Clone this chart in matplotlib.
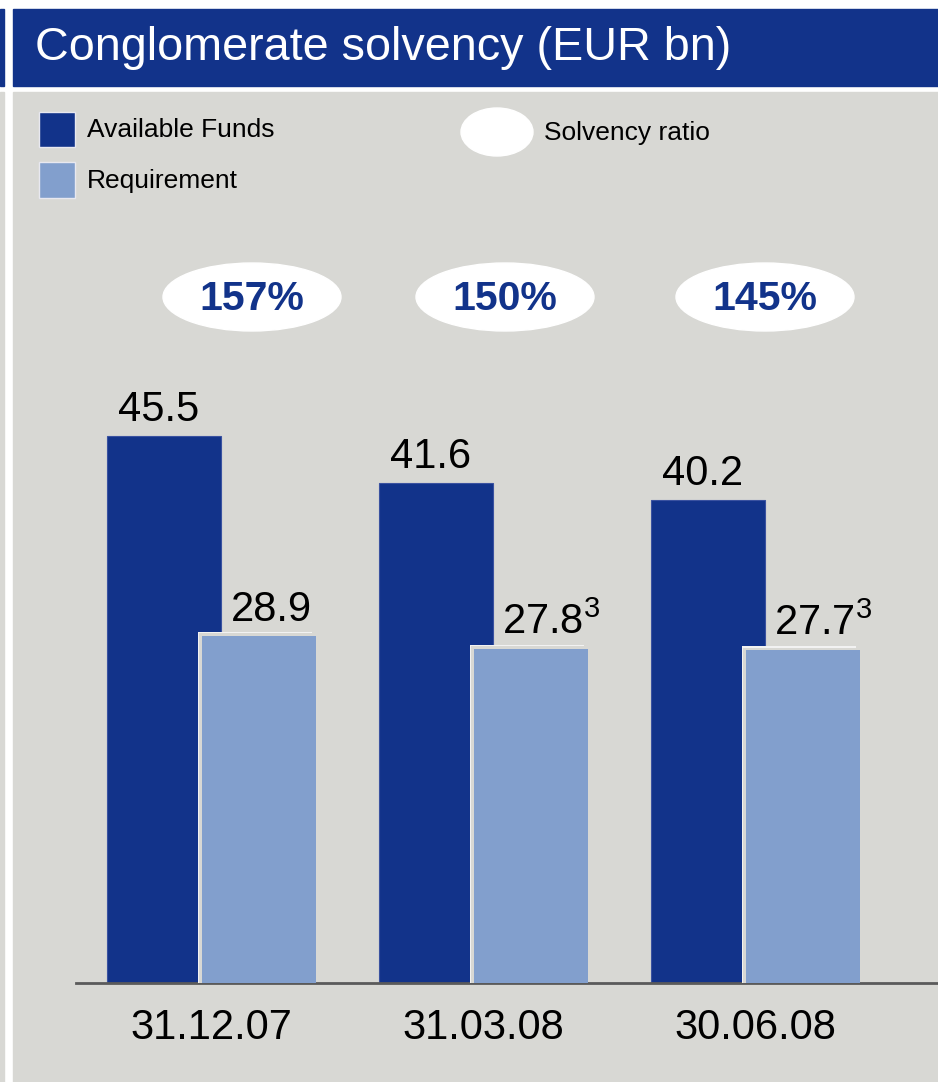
import matplotlib.pyplot as plt
from matplotlib.patches import Rectangle, Ellipse

plt.rcParams['font.family'] = ['Liberation Sans', 'DejaVu Sans']

# data
dates = ['31.12.07', '31.03.08', '30.06.08']
available_funds = [45.5, 41.6, 40.2]
requirement = [28.9, 27.8, 27.7]
req_notes = ['', '3', '3']
solvency_ratio = ['157%', '150%', '145%']

DARK = '#12338A'
LIGHT = '#829FCD'
BG = '#D8D8D4'

W, H = 938, 1082
fig = plt.figure(figsize=(W / 100, H / 100), dpi=100)

# background layer in pixel coordinates
bg = fig.add_axes([0, 0, 1, 1])
bg.set_xlim(0, W)
bg.set_ylim(H, 0)
bg.axis('off')
bg.add_patch(Rectangle((0, 9), 4, 77, color=DARK))
bg.add_patch(Rectangle((13, 9), W - 13, 77, color=DARK))
bg.add_patch(Rectangle((0, 92), 4, H - 92, color=BG))
bg.add_patch(Rectangle((13, 92), W - 13, H - 92, color=BG))
bg.text(35, 48, 'Conglomerate solvency (EUR bn)', color='white', fontsize=33.7,
        va='center', ha='left')

# legend
bg.add_patch(Rectangle((39, 112), 36, 35, facecolor=DARK, edgecolor='#E8E8F0', lw=1))
bg.add_patch(Rectangle((39, 162), 36, 36, facecolor=LIGHT, edgecolor='#E8E8F0', lw=1))
bg.text(87, 130, 'Available Funds', fontsize=19, va='center')
bg.text(87, 181, 'Requirement', fontsize=19, va='center')
bg.add_patch(Ellipse((497, 132), 72, 48, color='white'))
bg.text(544, 133, 'Solvency ratio', fontsize=19, va='center')

# bar chart, x in pixels, y in EUR bn
px_per_unit = 12.02
base_y = 983
top_y = 92
ax = fig.add_axes([76 / W, (H - base_y) / H, (W - 76) / W, (base_y - top_y) / H])
ax.set_facecolor('none')
ax.set_xlim(76, W)
ax.set_ylim(0, (base_y - top_y) / px_per_unit)
for s in ['top', 'right', 'left']:
    ax.spines[s].set_visible(False)
ax.spines['bottom'].set_color('#5a5a5a')
ax.spines['bottom'].set_linewidth(2)
ax.set_yticks([])

centers = [211.5 + 272 * i for i in range(len(dates))]
bw = 114
dark_x = [c - 48 for c in centers]
light_x = [c + 47 for c in centers]
off = 4 / px_per_unit

ax.bar(dark_x, available_funds, width=bw, color=DARK, edgecolor='#3A52A0', lw=0.8, zorder=2)
# highlight edge behind requirement bars
ax.bar([x - 4 for x in light_x], [v + off for v in requirement], width=bw, color='#F2F2F2', zorder=3)
ax.bar([x - 2.5 for x in light_x], [v + 2.5 / px_per_unit for v in requirement], width=bw + 1,
       color=BG, zorder=3)
ax.bar(light_x, requirement, width=bw, color=LIGHT, zorder=4)

for x, v in zip(dark_x, available_funds):
    ax.text(x - 5, v + 0.5, f'{v:.1f}', fontsize=30, ha='center', va='bottom')
for x, v, n in zip(light_x, requirement, req_notes):
    label = f'{v:.1f}' + (r'$^{\mathregular{%s}}$' % n if n else '')
    ax.text(x - bw / 2 + 29, v + 0.5, label, fontsize=30, ha='left', va='bottom')

ratio_y = (base_y - 297) / px_per_unit
ratio_cx = [252, 505, 765]
for cx, r in zip(ratio_cx, solvency_ratio):
    ax.add_patch(Ellipse((cx, ratio_y), 178, 68 / px_per_unit, color='white', zorder=5))
    ax.text(cx, ratio_y - 0.2, r, fontsize=29.5, fontweight='bold', color=DARK,
            ha='center', va='center', zorder=6)

ax.set_xticks(centers)
ax.set_xticklabels(dates, fontsize=30)
ax.tick_params(axis='x', length=0, pad=18)

fig.savefig('out.png', dpi=100)
